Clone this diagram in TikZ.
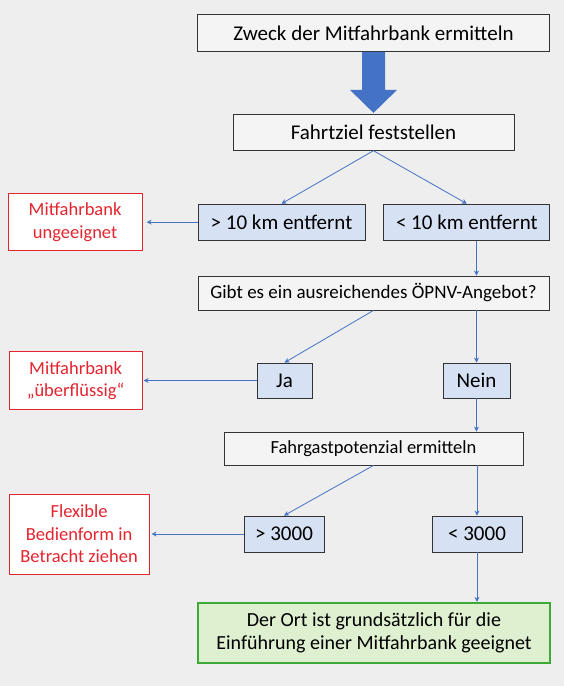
\documentclass[tikz,border=0pt]{standalone}
\usepackage{fontspec}
\setmainfont{Carlito}
\usepackage{xcolor}
\usepackage{tikz}
\usetikzlibrary{arrows.meta, positioning}
\definecolor{arrowblue}{RGB}{68, 114, 196}
\definecolor{choiceblue}{RGB}{214, 225, 243}
\definecolor{boxgrey}{RGB}{244, 244, 244}
\definecolor{paperbg}{RGB}{238, 238, 238}
\definecolor{stopred}{RGB}{228, 36, 46}
\definecolor{goodgreen}{RGB}{60, 170, 55}
\definecolor{lightgreen}{RGB}{222, 240, 208}

\begin{document}
\begin{tikzpicture}[
      x=1pt, y=-1pt,
      box/.style={draw=black!80, fill=boxgrey, line width=0.8pt, inner sep=0pt,
                  align=center, font=\fontsize{21}{25}\selectfont},
      choice/.style={box, fill=choiceblue},
      stopbox/.style={box, draw=stopred, fill=white, text=stopred, line width=1pt,
                      font=\fontsize{18.5}{22.5}\selectfont},
      goalbox/.style={box, draw=goodgreen, fill=lightgreen, line width=2.2pt,
                      font=\fontsize{20}{22.5}\selectfont},
      arr/.style={-{Stealth[length=5pt, width=5pt]}, arrowblue, line width=0.8pt}
    ]
    \fill[paperbg] (0,0) rectangle (564,686);
    \useasboundingbox (0,0) rectangle (564,686);

    \node[box, minimum width=352pt, minimum height=37pt] (zweck) at (373.5,33)
      {Zweck der Mitfahrbank ermitteln};
    \node[box, minimum width=281pt, minimum height=36pt,
          below=62pt of zweck] (fahrtziel)
      {Fahrtziel feststellen};

    \node[choice, minimum width=167pt, minimum height=36pt,
          below=53pt of fahrtziel, xshift=-92pt] (weit)
      {> 10 km entfernt};
    \node[choice, minimum width=166pt, minimum height=36pt,
          right=18pt of weit] (nah)
      {< 10 km entfernt};
    \node[stopbox, minimum width=134pt, minimum height=57pt,
          left=55pt of weit] (ungeeignet)
      {Mitfahrbank\\ungeeignet};

    \node[box, minimum width=351pt, minimum height=34pt,
          font=\fontsize{19}{23}\selectfont] (oepnv) at (373.5,293)
      {Gibt es ein ausreichendes ÖPNV-Angebot?};

    \node[choice, minimum width=55pt, minimum height=35pt] (ja) at (284.5,380.5) {Ja};
    \node[choice, minimum width=67pt, minimum height=35pt] (nein) at (476.5,380.5) {Nein};
    \node[stopbox, minimum width=133pt, minimum height=58pt,
          left=114pt of ja] (ueberfl)
      {Mitfahrbank\\„überflüssig“};

    \node[box, minimum width=299pt, minimum height=33pt,
          font=\fontsize{18.5}{22}\selectfont] (fahrgast) at (373.5,448.5)
      {Fahrgastpotenzial ermitteln};

    \node[choice, minimum width=80pt, minimum height=36pt] (mehr) at (284,534) {> 3000};
    \node[choice, minimum width=90pt, minimum height=36pt] (weniger) at (477,534) {< 3000};
    \node[stopbox, minimum width=140pt, minimum height=80pt,
          left=94pt of mehr] (flexibel)
      {Flexible\\Bedienform in\\Betracht ziehen};

    \node[goalbox, minimum width=352pt, minimum height=60pt] (geeignet) at (374,633)
      {Der Ort ist grundsätzlich für die\\Einführung einer Mitfahrbank geeignet};

    % dicker Pfeil oben
    \fill[arrowblue] ([xshift=-11.5pt]zweck.south) -- ([xshift=11.5pt]zweck.south)
      -- ++(0,38) -- ++(12,0) -- ([yshift=1pt]fahrtziel.north)
      -- ++(-23.5,-23) -- ++(12,0) -- cycle;

    \draw[arr] (fahrtziel.south) -- (weit.north);
    \draw[arr] (fahrtziel.south) -- (nah.north);
    \draw[arr, shorten >=4pt] (weit.west) -- (weit.west -| ungeeignet.east);
    \draw[arr] (nah.south -| nein) -- (oepnv.north -| nein);

    \draw[arr] (oepnv.south) -- (ja.north);
    \draw[arr] (oepnv.south -| nein) -- (nein.north);
    \draw[arr, shorten >=1pt] (ja.west) -- (ja.west -| ueberfl.east);
    \draw[arr] (nein.south) -- (fahrgast.north -| nein);

    \draw[arr] (fahrgast.south) -- (mehr.north);
    \draw[arr] (fahrgast.south -| weniger) -- (weniger.north);
    \draw[arr, shorten >=2pt] (mehr.west) -- (mehr.west -| flexibel.east);
    \draw[arr] (weniger.south) -- (geeignet.north -| weniger);
  \end{tikzpicture}
\end{document}
